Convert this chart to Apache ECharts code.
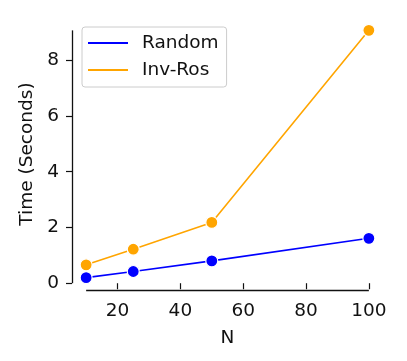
<!DOCTYPE html>
<html>
<head>
<meta charset="utf-8">
<script src="https://cdn.jsdelivr.net/npm/echarts@6/dist/echarts.min.js"></script>
<style>
  html, body { margin:0; padding:0; background:#fff; }
  #chart { width:407px; height:361px; }
</style>
</head>
<body>
<div id="chart"></div>
<script type="text/javascript">
  // data
  var nValues = [10, 25, 50, 100];
  var randomTimes = [0.20, 0.42, 0.80, 1.61];
  var invRosTimes = [0.66, 1.22, 2.18, 9.07];
  var xTicks = [20, 40, 60, 80, 100];
  var yTicks = [0, 2, 4, 6, 8];

  var font = 'DejaVu Sans';
  var ink = '#111111';
  var fs = 18.5;

  function pairs(xs, ys) {
    var out = [];
    for (var i = 0; i < xs.length; i++) out.push([xs[i], ys[i]]);
    return out;
  }

  var xMin = Math.min.apply(null, nValues), xMax = Math.max.apply(null, nValues);
  var yTop = Math.max.apply(null, invRosTimes);
  var xPad = (xMax - xMin) * 0.05;
  var yLo = Math.min.apply(null, randomTimes), yPad = (yTop - yLo) * 0.05;
  var axMinX = xMin - xPad, axMaxX = xMax + xPad;
  var axMinY = yLo - yPad, axMaxY = yTop + yPad;

  var myChart = echarts.init(document.getElementById('chart'));
  myChart.setOption({
    animation: false,
    grid: { left: 72, right: 24, top: 18, bottom: 71 },
    legend: {
      orient: 'vertical',
      left: 82, top: 27,
      padding: [6, 8, 7, 6],
      itemGap: 7,
      itemWidth: 40, itemHeight: 2,
      icon: 'rect',
      backgroundColor: '#fff',
      borderColor: '#cccccc', borderWidth: 1, borderRadius: 3,
      itemStyle: { borderWidth: 0 },
      textStyle: { fontFamily: font, fontSize: fs, color: ink, lineHeight: 20, padding: [0, 0, 0, 9] },
      data: [
        { name: 'Random', itemStyle: { color: '#0000ff', borderWidth: 0 } },
        { name: 'Inv-Ros', itemStyle: { color: '#ffa500', borderWidth: 0 } }
      ]
    },
    xAxis: {
      type: 'value', min: axMinX, max: axMaxX,
      name: 'N', nameLocation: 'middle', nameGap: 39,
      nameTextStyle: { fontFamily: font, fontSize: fs, color: ink },
      axisLine: { show: false },
      axisTick: { show: true, length: 6, customValues: xTicks, lineStyle: { color: ink, width: 1.2 } },
      axisLabel: { customValues: xTicks, margin: 12, fontFamily: font, fontSize: fs, color: ink },
      splitLine: { show: false }
    },
    yAxis: {
      type: 'value', min: axMinY, max: axMaxY,
      name: 'Time (Seconds)', nameLocation: 'middle', nameGap: 34,
      nameTextStyle: { fontFamily: font, fontSize: fs, color: ink },
      axisLine: { show: false },
      axisTick: { show: true, length: 6, customValues: yTicks, lineStyle: { color: ink, width: 1.2 } },
      axisLabel: { customValues: yTicks, margin: 13, fontFamily: font, fontSize: fs, color: ink },
      splitLine: { show: false }
    },
    series: [
      {
        name: 'Random', type: 'line', clip: false,
        data: pairs(nValues, randomTimes),
        symbol: 'circle', symbolSize: 12,
        lineStyle: { color: '#0000ff', width: 1.6 },
        itemStyle: { color: '#0000ff', borderColor: '#fff', borderWidth: 1.2 },
        markLine: {
          silent: true, symbol: 'none', label: { show: false },
          lineStyle: { color: ink, width: 1.3, type: 'solid' },
          data: [
            [{ coord: [xMin, axMinY] }, { coord: [xMax, axMinY] }],
            [{ coord: [axMinX, 0] }, { coord: [axMinX, yTop] }]
          ]
        },
        z: 3
      },
      {
        name: 'Inv-Ros', type: 'line', clip: false,
        data: pairs(nValues, invRosTimes),
        symbol: 'circle', symbolSize: 12,
        lineStyle: { color: '#ffa500', width: 1.6 },
        itemStyle: { color: '#ffa500', borderColor: '#fff', borderWidth: 1.2 },
        z: 3
      }
    ]
  });
</script>
</body>
</html>
